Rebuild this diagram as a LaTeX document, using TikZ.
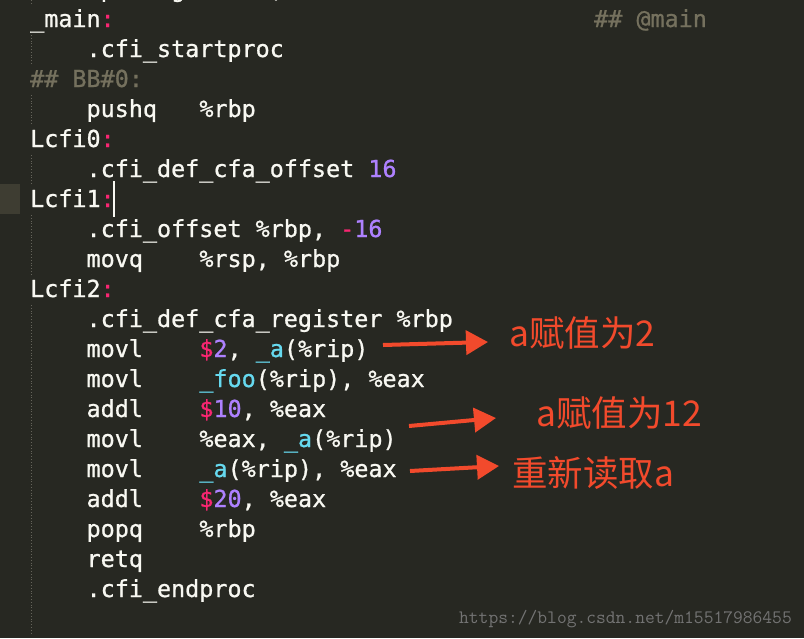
\documentclass[tikz,border=0pt]{standalone}
\usepackage{fontspec}
\setmonofont[FakeBold=0.9]{DejaVu Sans Mono}
\newfontfamily\cjk{Noto Sans CJK SC}
\newfontfamily\wmfont{Latin Modern Mono}
\usetikzlibrary{arrows.meta}

\definecolor{mkbg}{HTML}{272822}
\definecolor{mkfg}{HTML}{F8F8F2}
\definecolor{mkpink}{HTML}{F92672}
\definecolor{mkpurple}{HTML}{AE81FF}
\definecolor{mkcyan}{HTML}{66D9EF}
\definecolor{mkgray}{HTML}{75715E}
\definecolor{mkline}{HTML}{3E3D32}
\definecolor{noteRed}{HTML}{F24A2C}

\newcommand{\pk}[1]{\textcolor{mkpink}{#1}}
\newcommand{\nm}[1]{\textcolor{mkpurple}{#1}}
\newcommand{\fn}[1]{\textcolor{mkcyan}{#1}}

\tikzset{
  code/.style={anchor=base west, inner sep=0pt, text=mkfg, font=\ttfamily\fontsize{23.4}{28}\selectfont},
  cmt/.style={code, text=mkgray},
  note/.style={anchor=west, inner sep=0pt, text=noteRed, font=\cjk\fontsize{35.5}{40}\selectfont},
  redarrow/.style={draw=noteRed, line width=4pt, -{Triangle[length=22pt,width=24pt]}},
  guide/.style={draw=mkline!80!white, dotted, line width=0.8pt}
}

\begin{document}
\begin{tikzpicture}[x=1pt,y=-1pt]
\useasboundingbox (0,0) rectangle (804,638);
\fill[mkbg] (0,0) rectangle (804,638);
\clip (0,0) rectangle (804,638);

% current line and cursor
\fill[mkline] (0,184) rectangle (20,214);
\draw[mkfg, line width=2pt] (113.5,181) -- (113.5,217);

% indent guides
\foreach \a/\b in {-1/-1,1/1,3/3,5/5,7/8,10/20}
  \draw[guide] (31,{5+30*\a}) -- (31,{min(638,35+30*\b)});

% code lines, baseline at 27+30*row
\node[code] (p2align) at (86.4,-3) {.p2align};
\node[code] (p2arg) at (256.2,-3) {\nm{4}, \nm{0x90}};
\node[code] (main) at (30,27) {\_main\pk{:}};
\node[cmt] (maincmt) at (594,27) {\#\# @main};
\node[code] (startproc) at (86.4,57) {.cfi\_startproc};
\node[cmt] (bb) at (30,87) {\#\# BB\#0:};
\node[code] (pushq) at (86.4,117) {pushq};
\node[code] (pushqarg) at (199.2,117) {\%rbp};
\node[code] (lcfi0) at (30,147) {Lcfi0\pk{:}};
\node[code] (cfaoff) at (86.4,177) {.cfi\_def\_cfa\_offset \nm{16}};
\node[code] (lcfi1) at (30,207) {Lcfi1\pk{:}};
\node[code] (cfioff) at (86.4,237) {.cfi\_offset \%rbp, \pk{-}\nm{16}};
\node[code] (movq) at (86.4,267) {movq};
\node[code] (movqarg) at (199.2,267) {\%rsp, \%rbp};
\node[code] (lcfi2) at (30,297) {Lcfi2\pk{:}};
\node[code] (cfareg) at (86.4,327) {.cfi\_def\_cfa\_register \%rbp};
\node[code] (movla) at (86.4,357) {movl};
\node[code] (movlaarg) at (199.2,357) {\pk{\$}\nm{2}, \fn{\_a}(\%rip)};
\node[code] (movlb) at (86.4,387) {movl};
\node[code] (movlbarg) at (199.2,387) {\fn{\_foo}(\%rip), \%eax};
\node[code] (addla) at (86.4,417) {addl};
\node[code] (addlaarg) at (199.2,417) {\pk{\$}\nm{10}, \%eax};
\node[code] (movlc) at (86.4,447) {movl};
\node[code] (movlcarg) at (199.2,447) {\%eax, \fn{\_a}(\%rip)};
\node[code] (movld) at (86.4,477) {movl};
\node[code] (movldarg) at (199.2,477) {\fn{\_a}(\%rip), \%eax};
\node[code] (addlb) at (86.4,507) {addl};
\node[code] (addlbarg) at (199.2,507) {\pk{\$}\nm{20}, \%eax};
\node[code] (popq) at (86.4,537) {popq};
\node[code] (popqarg) at (199.2,537) {\%rbp};
\node[code] (retq) at (86.4,567) {retq};
\node[code] (endproc) at (86.4,597) {.cfi\_endproc};

% notes
\node[note] (set2) at (509,333) {a赋值为2};
\node[note] (set12) at (536,413) {a赋值为12};
\node[note] (reread) at (512,473) {重新读取a};

\coordinate (s1) at (383,345);
\coordinate (e1) at (488,342);
\coordinate (s2) at (409,426);
\coordinate (e2) at (496,418);
\coordinate (s3) at (410,471);
\coordinate (e3) at (499,466);
\draw[redarrow] (s1) -- (e1);
\draw[redarrow] (s2) -- (e2);
\draw[redarrow] (s3) -- (e3);

\node[anchor=base east, inner sep=0pt, text=gray!90!black, font=\wmfont\fontsize{19}{22}\selectfont] (mark) at (792,623) {https://blog.csdn.net/m15517986455};
\end{tikzpicture}
\end{document}
